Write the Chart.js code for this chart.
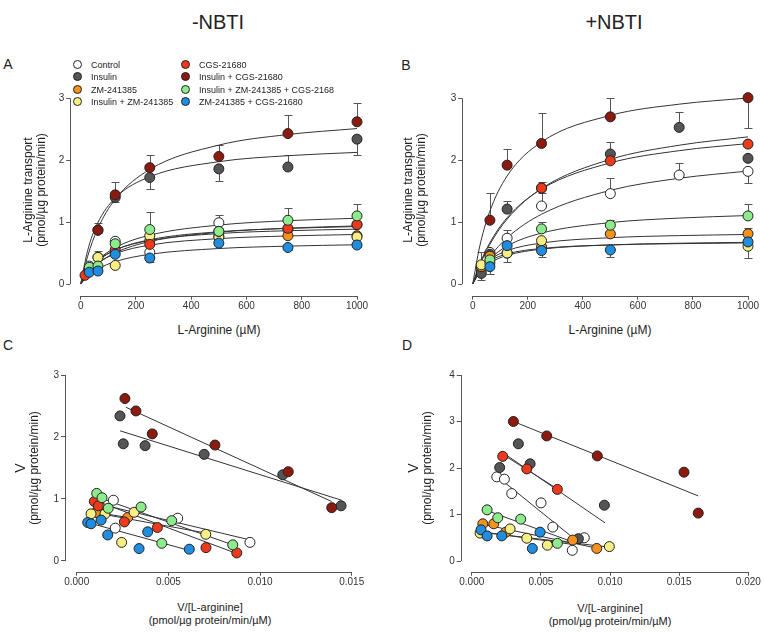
<!DOCTYPE html>
<html>
<head>
<meta charset="utf-8">
<script src="https://cdn.jsdelivr.net/npm/chart.js@4.4.1/dist/chart.umd.min.js"></script>
<style>
  body { margin: 0; background: #fff; font-family: "Liberation Sans", Arial, sans-serif; color: #222; }
  #page { position: relative; width: 764px; height: 633px; overflow: hidden; }
  canvas { position: absolute; }
  .t { position: absolute; white-space: nowrap; transform: translate(-50%, -50%); text-align: center; }
  .rot { transform: translate(-50%, -50%) rotate(-90deg); }
  .lg { position: absolute; font-size: 9px; white-space: nowrap; line-height: 12px; }
  .lg i { display: inline-block; width: 7px; height: 7px; border: 1px solid #222; border-radius: 50%; vertical-align: -1px; margin-right: 9px; }
</style>
</head>
<body>
<div id="page">
  <canvas id="chartA"></canvas>
  <canvas id="chartB"></canvas>
  <canvas id="chartC"></canvas>
  <canvas id="chartD"></canvas>

  <div class="t" style="left:218px;top:22px;font-size:20px">-NBTI</div>
  <div class="t" style="left:614px;top:22px;font-size:20px">+NBTI</div>
  <div class="t" style="left:8px;top:64px;font-size:14px">A</div>
  <div class="t" style="left:406px;top:65px;font-size:14px">B</div>
  <div class="t" style="left:8px;top:345px;font-size:14px">C</div>
  <div class="t" style="left:407px;top:345px;font-size:14px">D</div>

  <div class="t rot" style="left:35px;top:190px;font-size:12px;line-height:13px">L-Arginine transport<br>(pmol/µg protein/min)</div>
  <div class="t rot" style="left:415px;top:190px;font-size:12px;line-height:13px">L-Arginine transport<br>(pmol/µg protein/min)</div>
  <div class="t" style="left:219px;top:330px;font-size:12px">L-Arginine (µM)</div>
  <div class="t" style="left:610px;top:330px;font-size:12px">L-Arginine (µM)</div>

  <div class="t rot" style="left:27px;top:468px;font-size:12px;line-height:13px"><span style="font-size:14px">V</span><br>(pmol/µg protein/min)</div>
  <div class="t rot" style="left:420px;top:468px;font-size:12px;line-height:13px"><span style="font-size:14px">V</span><br>(pmol/µg protein/min)</div>
  <div class="t" style="left:210px;top:614px;font-size:11px;line-height:13px">V/[L-arginine]<br>(pmol/µg protein/min/µM)</div>
  <div class="t" style="left:610px;top:615px;font-size:11px;line-height:13px">V/[L-arginine]<br>(pmol/µg protein/min/µM)</div>
</div>

<script>
// series, in legend order
const seriesNames = ["Control", "Insulin", "ZM-241385", "Insulin + ZM-241385",
  "CGS-21680", "Insulin + CGS-21680", "Insulin + ZM-241385 + CGS-2168", "ZM-241385 + CGS-21680"];
const seriesColors = ["#ffffff", "#555555", "#f5921e", "#f7ef83",
  "#ee3a1c", "#8c1a0f", "#8deb8d", "#1f8ee0"];
// bottom -> top drawing order (index into series)
const stackOrder = [0, 1, 2, 3, 4, 5, 6, 7];

// tick labels
const ticksKinX = [0, 200, 400, 600, 800, 1000];
const ticksKinY = [0, 1, 2, 3];
const ticksCX = [0, 0.005, 0.010, 0.015];
const ticksCY = [0, 1, 2, 3];
const ticksDX = [0, 0.005, 0.010, 0.015, 0.020];
const ticksDY = [0, 1, 2, 3, 4];

// L-arginine concentrations (uM)
const conc = [15.625, 31.25, 62.5, 125, 250, 500, 750, 1000];
// x positions where the fitted curves were read
const fitX = [0, 25, 60, 125, 250, 500, 750, 1000];

// panel A (-NBTI), V per conc
const pointsA = [
  [null, 0.29, 0.43, 0.69, 0.51, 0.99, 0.88, 0.96],
  [null, null, 0.87, 1.40, 1.72, 1.86, 1.89, 2.34],
  [null, null, null, null, 0.70, 0.77, 0.78, 0.78],
  [null, null, 0.43, 0.30, 0.78, 0.76, null, 0.76],
  [0.14, 0.22, null, 0.55, 0.64, 0.85, 0.90, 0.96],
  [null, null, 0.87, 1.44, 1.88, 2.06, 2.43, 2.62],
  [null, 0.27, 0.29, 0.65, 0.88, 0.85, 1.03, 1.10],
  [null, 0.19, 0.21, 0.48, 0.42, 0.66, 0.59, 0.63]
];
// one-sided error bars (+ up, - down)
const errA = [
  [0, 0, 0, 0.06, 0, 0.12, 0, 0],
  [0, 0, -0.05, -0.08, -0.19, -0.20, 0.19, -0.25],
  [0, 0, 0, 0, 0, 0, 0, 0],
  [0, 0, 0.10, 0, 0, 0, 0, 0],
  [0, 0, 0, 0, 0, 0, 0, 0],
  [0, 0, 0.12, 0.20, 0.20, 0.19, 0.30, 0.30],
  [0, 0, 0, 0, 0.29, 0, 0.19, 0.19],
  [0, 0, 0, 0, -0.06, 0, -0.04, -0.03]
];
const fitA = [
  [0, 0.162, 0.321, 0.505, 0.686, 0.836, 0.902, 0.939],
  [0, 0.538, 0.972, 1.389, 1.732, 1.976, 2.073, 2.126],
  [0, 0.176, 0.330, 0.489, 0.629, 0.733, 0.776, 0.800],
  [0, 0.202, 0.375, 0.551, 0.703, 0.815, 0.861, 0.886],
  [0, 0.191, 0.364, 0.548, 0.715, 0.844, 0.898, 0.928],
  [0, 0.445, 0.877, 1.370, 1.851, 2.244, 2.415, 2.511],
  [0, 0.194, 0.379, 0.588, 0.789, 0.952, 1.023, 1.062],
  [0, 0.122, 0.237, 0.362, 0.480, 0.573, 0.612, 0.634]
];

// panel B (+NBTI)
const pointsB = [
  [null, 0.23, 0.51, 0.74, 1.26, 1.46, 1.76, 1.82],
  [null, 0.17, 0.48, 1.21, 1.55, 2.10, 2.53, 2.03],
  [null, 0.28, 0.45, 0.50, 0.60, 0.81, null, 0.81],
  [null, 0.31, 0.34, 0.50, 0.70, null, null, 0.61],
  [null, null, null, null, 1.55, 1.99, null, 2.26],
  [null, null, 1.03, 1.92, 2.27, 2.70, null, 3.01],
  [null, null, 0.39, null, 0.89, 0.95, null, 1.10],
  [null, null, 0.28, 0.62, 0.54, 0.55, null, 0.68]
];
const errB = [
  [0, 0, 0, 0.14, 0.21, 0.25, 0.19, -0.19],
  [0, -0.10, 0, 0.13, 0, 0.20, 0.25, 0],
  [0, 0, 0.08, 0, 0, 0.05, 0, 0.09],
  [0, 0.21, 0, -0.15, 0, 0, 0, -0.19],
  [0, 0, 0, 0, 0.09, 0, 0, 0],
  [0, 0, 0.44, 0.26, 0.50, 0.30, 0, -0.49],
  [0, 0, 0, 0, 0.11, 0.08, 0, 0.20],
  [0, 0, -0.12, 0, -0.10, -0.11, 0, 0]
];
const fitB = [
  [0, 0.202, 0.431, 0.747, 1.127, 1.513, 1.708, 1.825],
  [0, 0.296, 0.621, 1.048, 1.543, 2.014, 2.242, 2.377],
  [0, 0.215, 0.382, 0.538, 0.662, 0.748, 0.782, 0.800],
  [0, 0.219, 0.365, 0.486, 0.574, 0.631, 0.652, 0.664],
  [0, 0.314, 0.648, 1.071, 1.534, 1.957, 2.154, 2.269],
  [0, 0.598, 1.149, 1.745, 2.295, 2.724, 2.905, 3.005],
  [0, 0.202, 0.395, 0.613, 0.822, 0.992, 1.065, 1.106],
  [0, 0.189, 0.332, 0.462, 0.563, 0.632, 0.659, 0.673]
];

// panel C (Eadie-Hofstee, -NBTI): [V/S, V]
const pointsC = [
  [[0.0020, 0.98], [0.0021, 0.53], [0.00551, 0.69], [0.00945, 0.30]],
  [[0.00236, 2.34], [0.00254, 1.89], [0.00373, 1.86], [0.00695, 1.72], [0.01124, 1.39], [0.01442, 0.89]],
  [[0.00104, 0.78], [0.00278, 0.70]],
  [[0.00078, 0.76], [0.00154, 0.76], [0.00313, 0.785], [0.00245, 0.30], [0.00704, 0.43]],
  [[0.00096, 0.96], [0.00118, 0.89], [0.0026, 0.63], [0.0044, 0.54], [0.00705, 0.215], [0.00873, 0.13]],
  [[0.00263, 2.62], [0.00323, 2.42], [0.00412, 2.05], [0.00754, 1.87], [0.01154, 1.44], [0.01391, 0.86]],
  [[0.00109, 1.09], [0.00138, 1.02], [0.00172, 0.85], [0.00351, 0.87], [0.00518, 0.65], [0.00464, 0.285], [0.00851, 0.26]],
  [[0.0006, 0.62], [0.00078, 0.60], [0.00133, 0.66], [0.00169, 0.42], [0.00387, 0.47], [0.0034, 0.20], [0.00614, 0.19]]
];
// regression line end points
const lineC = [
  [[0.0015, 0.90], [0.00945, 0.34]],
  [[0.00236, 2.10], [0.01445, 0.98]],
  [[0.00078, 0.80], [0.0028, 0.70]],
  [[0.00078, 0.79], [0.00704, 0.45]],
  [[0.00096, 0.98], [0.00873, 0.12]],
  [[0.00268, 2.48], [0.0139, 0.96]],
  [[0.00105, 1.04], [0.00851, 0.26]],
  [[0.0006, 0.62], [0.00614, 0.17]]
];

// panel D (Eadie-Hofstee, +NBTI)
const pointsD = [
  [[0.00181, 1.81], [0.00236, 1.76], [0.00289, 1.45], [0.00501, 1.25], [0.00586, 0.73], [0.00814, 0.50], [0.00727, 0.23]],
  [[0.00202, 2.01], [0.00337, 2.52], [0.00422, 2.09], [0.00959, 1.20], [0.00771, 0.48]],
  [[0.0008, 0.80], [0.00159, 0.80], [0.00246, 0.62], [0.0073, 0.45], [0.00904, 0.27]],
  [[0.0006, 0.60], [0.00277, 0.69], [0.00398, 0.49], [0.00547, 0.34], [0.00995, 0.31]],
  [[0.00224, 2.25], [0.00398, 1.98], [0.00619, 1.54]],
  [[0.00301, 3.0], [0.00542, 2.69], [0.00908, 2.26], [0.01535, 1.91], [0.01638, 1.03]],
  [[0.00111, 1.10], [0.00188, 0.93], [0.00354, 0.90], [0.00619, 0.38]],
  [[0.00067, 0.67], [0.00111, 0.54], [0.00217, 0.54], [0.00494, 0.62], [0.00438, 0.27]]
];
const lineD = [
  [[0.0020, 1.78], [0.0079, 0.36]],
  [[0.0021, 2.36], [0.00964, 0.82]],
  [[0.0008, 0.79], [0.0090, 0.28]],
  [[0.0006, 0.62], [0.0099, 0.30]],
  [[0.0022, 2.30], [0.0062, 1.55]],
  [[0.00301, 3.0], [0.01638, 1.40]],
  [[0.00115, 1.08], [0.0072, 0.42]],
  [[0.00067, 0.63], [0.0072, 0.36]]
];

// legend (2 columns of 4)
seriesNames.forEach((name, i) => {
  const d = document.createElement("div");
  d.className = "lg";
  d.style.left = (i < 4 ? 73 : 181) + "px";
  d.style.top = (59 + (i % 4) * 12.3) + "px";
  d.innerHTML = `<i style="background:${seriesColors[i]}"></i>${name}`;
  document.getElementById("page").appendChild(d);
});

// axis lines only over the data range (Prism style, offset axes)
const axisLines = {
  id: "axisLines",
  afterDraw(chart, args, opts) {
    const { ctx, chartArea, scales: { x, y } } = chart;
    ctx.save();
    ctx.strokeStyle = "#555";
    ctx.lineWidth = 1;
    ctx.beginPath();
    const yb = Math.round(chartArea.bottom) + 0.5;
    ctx.moveTo(x.getPixelForValue(opts.x[0]), yb);
    ctx.lineTo(x.getPixelForValue(opts.x[1]), yb);
    const xl = Math.round(chartArea.left) + 0.5;
    ctx.moveTo(xl, y.getPixelForValue(opts.y[0]));
    ctx.lineTo(xl, y.getPixelForValue(opts.y[1]));
    ctx.stroke();
    ctx.restore();
  }
};

const errorBars = {
  id: "errorBars",
  beforeDatasetsDraw(chart, args, opts) {
    if (!opts.bars) return;
    const { ctx, scales: { x, y } } = chart;
    ctx.save();
    ctx.strokeStyle = "#555";
    ctx.lineWidth = 1;
    opts.bars.forEach(b => {
      const px = Math.round(x.getPixelForValue(b.x)) + 0.5;
      const p0 = y.getPixelForValue(b.y);
      const p1 = Math.round(y.getPixelForValue(b.y + b.e)) + 0.5;
      ctx.beginPath();
      ctx.moveTo(px, p0);
      ctx.lineTo(px, p1);
      ctx.moveTo(px - 4, p1);
      ctx.lineTo(px + 4, p1);
      ctx.stroke();
    });
    ctx.restore();
  }
};

function pointSets(rows) {
  return stackOrder.map((s, k) => ({
    data: rows[s].map(p => ({ x: p[0], y: p[1] })),
    backgroundColor: seriesColors[s],
    borderColor: "#222",
    borderWidth: 1,
    pointRadius: 5,
    showLine: false,
    clip: false,
    order: 20 - k
  }));
}

function kineticSets(points, fits) {
  const sets = fits.map(f => ({
    data: fitX.map((x, j) => ({ x, y: f[j] })),
    showLine: true,
    borderColor: "#333",
    borderWidth: 1,
    pointRadius: 0,
    cubicInterpolationMode: "monotone",
    clip: false,
    order: 100
  }));
  const rows = points.map(r => conc.map((c, j) => [c, r[j]]).filter(p => p[1] !== null));
  return sets.concat(pointSets(rows));
}

function kineticBars(points, errs) {
  const bars = [];
  points.forEach((r, i) => r.forEach((v, j) => {
    if (v !== null && errs[i][j] !== 0) bars.push({ x: conc[j], y: v, e: errs[i][j] });
  }));
  return bars;
}

function eadieSets(points, lines) {
  const sets = lines.map(l => ({
    data: l.map(p => ({ x: p[0], y: p[1] })),
    showLine: true,
    borderColor: "#333",
    borderWidth: 1,
    pointRadius: 0,
    clip: false,
    order: 100
  }));
  return sets.concat(pointSets(points));
}

function panel(id, box, area, xs, ys, datasets, bars) {
  const cv = document.getElementById(id);
  cv.width = box.w;
  cv.height = box.h;
  cv.style.left = box.x + "px";
  cv.style.top = box.y + "px";
  const tickFont = { family: "'Liberation Sans', Arial, sans-serif", size: 10 };
  const grid = { drawOnChartArea: false, drawTicks: true, tickLength: 4, color: "#555", lineWidth: 1 };
  const xMax = xs.ticks[xs.ticks.length - 1];
  const yMax = ys.ticks[ys.ticks.length - 1];
  return new Chart(cv, {
    type: "scatter",
    data: { datasets },
    options: {
      responsive: false,
      animation: false,
      events: [],
      layout: { padding: { left: 0, top: area.top - box.y, right: box.x + box.w - area.right, bottom: 0 } },
      plugins: {
        legend: { display: false },
        tooltip: { enabled: false },
        axisLines: { x: [0, xMax], y: [0, yMax] },
        errorBars: { bars }
      },
      scales: {
        x: {
          type: "linear", min: xs.min, max: xMax,
          grid, border: { display: false },
          ticks: { font: tickFont, color: "#333", padding: 1, maxRotation: 0, autoSkip: false, callback: xs.fmt },
          afterBuildTicks: s => { s.ticks = xs.ticks.map(v => ({ value: v })); },
          afterFit: s => { s.height = box.y + box.h - area.bottom; }
        },
        y: {
          type: "linear", min: ys.min, max: yMax,
          grid, border: { display: false },
          ticks: { font: tickFont, color: "#333", padding: 2, callback: v => String(v) },
          afterBuildTicks: s => { s.ticks = ys.ticks.map(v => ({ value: v })); },
          afterFit: s => { s.width = area.left - box.x; }
        }
      }
    },
    plugins: [axisLines, errorBars]
  });
}

const fmtInt = v => String(v);
const fmt3 = v => v.toFixed(3);

panel("chartA", { x: 0, y: 85, w: 380, h: 235 }, { left: 70.3, top: 98.3, right: 357, bottom: 295.7 },
  { min: -37.6, ticks: ticksKinX, fmt: fmtInt }, { min: -0.189, ticks: ticksKinY },
  kineticSets(pointsA, fitA), kineticBars(pointsA, errA));

panel("chartB", { x: 380, y: 85, w: 384, h: 235 }, { left: 462.3, top: 98.3, right: 748, bottom: 295.7 },
  { min: -37.8, ticks: ticksKinX, fmt: fmtInt }, { min: -0.189, ticks: ticksKinY },
  kineticSets(pointsB, fitB), kineticBars(pointsB, errB));

panel("chartC", { x: 0, y: 360, w: 380, h: 235 }, { left: 65, top: 375, right: 351.7, bottom: 571.7 },
  { min: -0.00064, ticks: ticksCX, fmt: fmt3 }, { min: -0.173, ticks: ticksCY },
  eadieSets(pointsC, lineC), []);

panel("chartD", { x: 380, y: 360, w: 384, h: 235 }, { left: 460.7, top: 375, right: 748.3, bottom: 571.7 },
  { min: -0.0008, ticks: ticksDX, fmt: fmt3 }, { min: -0.23, ticks: ticksDY },
  eadieSets(pointsD, lineD), []);
</script>
</body>
</html>
